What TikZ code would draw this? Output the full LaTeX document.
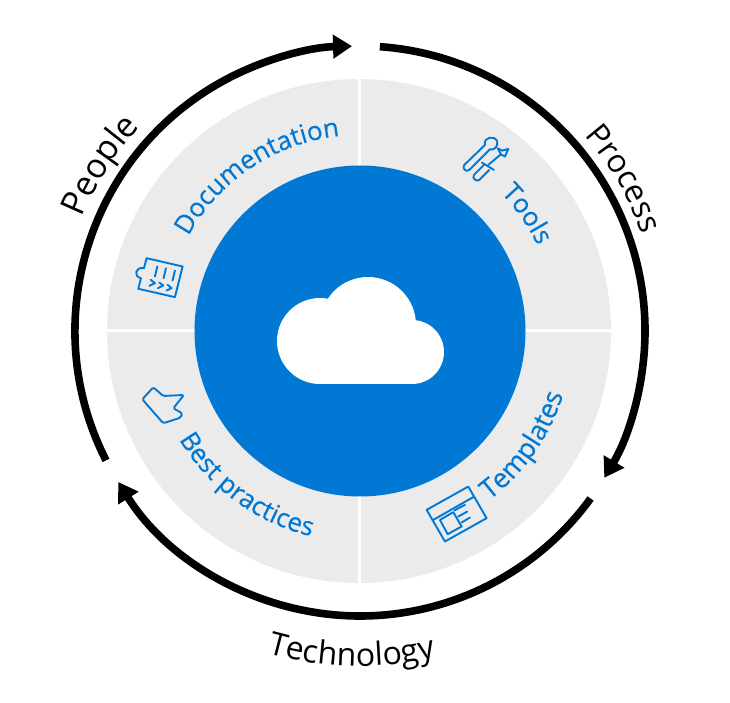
\documentclass[tikz,border=0pt]{standalone}
\usepackage{xcolor}
\usepackage{fontspec}
\usepackage{tikz}
\usetikzlibrary{arrows.meta,decorations.text}
\setmainfont{Open Sans}
\newfontfamily\bluefont[FakeBold=0.35]{Open Sans}
\definecolor{azure}{RGB}{0, 120, 212}
\definecolor{ringgray}{RGB}{235, 235, 235}

\begin{document}
\begin{tikzpicture}[x=1pt, y=1pt,
    cycleline/.style={line width=7.6pt, -{Triangle[width=23pt, length=19pt]}},
    iconline/.style={draw=azure, line width=1.9pt, line join=round, line cap=round}]
  \useasboundingbox (-360,-372) rectangle (370,331);
  % disc and quadrants
  \fill[ringgray] (-1,0) circle[radius=252pt];
  \draw[white, line width=3pt] (-0.5,-253) -- (-0.5,253);
  \draw[white, line width=3pt] (-254,0) -- (252,0);
  \fill[azure] (0,0) circle[radius=165.5pt];
  % cloud
  \fill[white] (-40,-10) circle[radius=43pt];
  \fill[white] (8,6) circle[radius=48pt];
  \fill[white] (52,-21) circle[radius=32pt];
  \fill[white] (-40,-53) rectangle (52,-10);
  % outer arrows
  \draw[cycleline] (207:285pt) arc[start angle=207, end angle=91.6, radius=285pt];
  \draw[cycleline] (86:285pt) arc[start angle=86, end angle=-31, radius=285pt];
  \draw[cycleline] (-36:285pt) arc[start angle=-36, end angle=-148, radius=285pt];
  % ring labels
  \path[decorate, decoration={text along path, text align=center,
    text={|\fontsize{26}{26}\bluefont\color{azure}|Documentation}}]
    (155:196pt) arc[start angle=155, end angle=92, radius=196pt];
  \path[decorate, decoration={text along path, text align=center,
    text={|\fontsize{26}{26}\bluefont\color{azure}|Tools}}]
    (46:197pt) arc[start angle=46, end angle=24, radius=197pt];
  \path[decorate, decoration={text along path, text align=center,
    text={|\fontsize{27}{27}\bluefont\color{azure}|Templates}}]
    (-58:213pt) arc[start angle=-58, end angle=-12, radius=213pt];
  \path[decorate, decoration={text along path, text align=center,
    text={|\fontsize{26}{26}\bluefont\color{azure}|Best practices}}]
    (-155:211pt) arc[start angle=-155, end angle=-97.4, radius=211pt];
  \path[decorate, decoration={text along path, text align=center,
    text={|\fontsize{34}{34}\selectfont|People}}]
    (167:300pt) arc[start angle=167, end angle=128, radius=300pt];
  \path[decorate, decoration={text along path, text align=center,
    text={|\fontsize{32}{32}\selectfont|Process}}]
    (46:298pt) arc[start angle=46, end angle=14, radius=298pt];
  \path[decorate, decoration={text along path, text align=center,
    text={|\fontsize{32}{32}\selectfont|Technology}}]
    (-109:335pt) arc[start angle=-109, end angle=-74, radius=335pt];
  % documentation icon
  \begin{scope}[shift={(-240,231)}, x=0.333pt, y=-0.333pt]
    \draw[iconline] (80,475) -- (188,500) -- (165,592) -- (55,567) -- (63,535)
      .. controls (40,530) and (45,500) .. (72,505) -- cycle;
    \draw[iconline] (112,500) -- (105,530);
    \draw[iconline] (138,505) -- (131,535);
    \draw[iconline] (165,512) -- (158,542);
    \draw[iconline] (92,540) -- (105,550) -- (88,558);
    \draw[iconline] (118,548) -- (130,557) -- (114,565);
    \draw[iconline] (143,555) -- (155,565) -- (140,572);
  \end{scope}
  % tools icon
  \begin{scope}[shift={(60,221)}, x=0.333pt, y=-0.333pt]
    \draw[iconline] (133,165) -- (195,105) .. controls (190,80) and (225,75) .. (232,95)
      .. controls (235,110) and (222,122) .. (210,118) -- (148,180)
      .. controls (138,188) and (125,175) .. (133,165);
    \draw[iconline] (192,165) -- (162,195) .. controls (155,205) and (170,217) .. (178,210) -- (208,180);
    \draw[iconline] (186,158) -- (222,180);
    \draw[iconline] (205,165) -- (243,133) -- (233,115) -- (247,122) -- (265,117) -- (255,140) -- (243,133);
  \end{scope}
  % templates icon
  \begin{scope}[shift={(50,-49)}, x=0.333pt, y=-0.333pt]
    \draw[iconline] (50,390) -- (175,320) -- (230,415) -- (105,485) -- cycle;
    \draw[iconline] (70,420) -- (193,350);
    \draw[iconline] (90,420) -- (130,397) -- (155,440) -- (113,463) -- cycle;
    \draw[iconline] (133,392) -- (165,375);
    \draw[iconline] (145,410) -- (172,395);
    \draw[iconline] (155,428) -- (180,413);
  \end{scope}
  % thumb icon
  \begin{scope}[shift={(-250,-39)}, x=0.333pt, y=-0.333pt]
    \draw[iconline, rounded corners=1.5pt] (97,88) -- (130,52) -- (160,78) -- (222,75) -- (190,115)
      -- (217,130) -- (212,143) -- (160,160) -- (125,120) -- cycle;
  \end{scope}
\end{tikzpicture}
\end{document}
